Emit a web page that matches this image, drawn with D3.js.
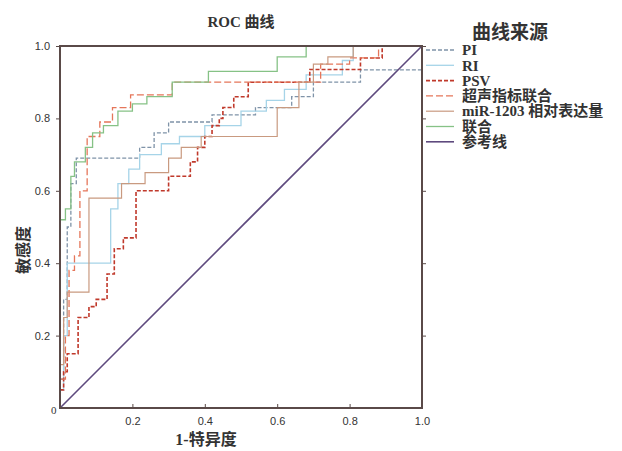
<!DOCTYPE html>
<html>
<head>
<meta charset="utf-8">
<script src="https://cdn.jsdelivr.net/npm/d3@7"></script>
<style>
  body { margin: 0; background: #fff; }
  svg { font-family: "Liberation Serif", "Noto Sans CJK SC", serif; }
  .axis path, .axis line { stroke: #5a4a48; }
  .axis text { font-size: 11px; fill: #333; }
</style>
</head>
<body>
<svg width="622" height="451"></svg>
<script>
// x ticks / y ticks
var xTicks = [0.2, 0.4, 0.6, 0.8, 1.0];
var yTicks = [0.2, 0.4, 0.6, 0.8, 1.0];

var seriesNames = ["PI", "RI", "PSV", "超声指标联合", "miR-1203 相对表达量", "联合", "参考线"];

// [1-specificity, sensitivity] step points
var piPts = [[0,0],[0,0.08],[0.01,0.08],[0.01,0.3],[0.02,0.3],[0.02,0.5],[0.03,0.5],[0.03,0.62],[0.045,0.62],[0.045,0.69],[0.22,0.69],[0.22,0.72],[0.26,0.72],[0.26,0.76],[0.3,0.76],[0.3,0.79],[0.42,0.79],[0.42,0.81],[0.54,0.81],[0.54,0.83],[0.64,0.83],[0.64,0.86],[0.7,0.86],[0.7,0.9],[0.83,0.9],[0.83,0.934],[1,0.934],[1,1]];
var riPts = [[0,0],[0,0.05],[0.01,0.05],[0.01,0.2],[0.02,0.2],[0.02,0.4],[0.14,0.4],[0.14,0.55],[0.16,0.55],[0.16,0.62],[0.19,0.62],[0.19,0.66],[0.22,0.66],[0.22,0.7],[0.28,0.7],[0.28,0.73],[0.33,0.73],[0.33,0.75],[0.4,0.75],[0.4,0.78],[0.5,0.78],[0.5,0.82],[0.57,0.82],[0.57,0.85],[0.62,0.85],[0.62,0.88],[0.68,0.88],[0.68,0.92],[0.78,0.92],[0.78,0.96],[0.81,0.96],[0.81,1],[1,1]];
var psvPts = [[0,0],[0,0.05],[0.01,0.05],[0.01,0.1],[0.02,0.1],[0.02,0.15],[0.05,0.15],[0.05,0.25],[0.08,0.25],[0.08,0.28],[0.1,0.28],[0.1,0.3],[0.13,0.3],[0.13,0.37],[0.15,0.37],[0.15,0.44],[0.175,0.44],[0.175,0.47],[0.21,0.47],[0.21,0.6],[0.3,0.6],[0.3,0.64],[0.36,0.64],[0.36,0.68],[0.38,0.68],[0.38,0.72],[0.4,0.72],[0.4,0.75],[0.42,0.75],[0.42,0.78],[0.44,0.78],[0.44,0.8],[0.45,0.8],[0.45,0.83],[0.48,0.83],[0.48,0.86],[0.52,0.86],[0.52,0.9],[0.69,0.9],[0.69,0.935],[0.83,0.935],[0.83,0.967],[0.89,0.967],[0.89,1],[1,1]];
var usPts = [[0,0],[0,0.08],[0.015,0.08],[0.015,0.2],[0.025,0.2],[0.025,0.38],[0.04,0.38],[0.04,0.42],[0.055,0.42],[0.055,0.6],[0.075,0.6],[0.075,0.75],[0.11,0.75],[0.11,0.79],[0.145,0.79],[0.145,0.83],[0.195,0.83],[0.195,0.865],[0.31,0.865],[0.31,0.9],[0.72,0.9],[0.72,0.95],[0.8,0.95],[0.8,0.967],[0.88,0.967],[0.88,1],[1,1]];
var mirPts = [[0,0],[0,0.12],[0.01,0.12],[0.01,0.25],[0.02,0.25],[0.02,0.32],[0.08,0.32],[0.08,0.58],[0.17,0.58],[0.17,0.62],[0.235,0.62],[0.235,0.65],[0.3,0.65],[0.3,0.69],[0.335,0.69],[0.335,0.72],[0.39,0.72],[0.39,0.75],[0.6,0.75],[0.6,0.83],[0.66,0.83],[0.66,0.9],[0.7,0.9],[0.7,0.95],[0.74,0.95],[0.74,0.97],[0.81,0.97],[0.81,1],[1,1]];
var combPts = [[0,0],[0,0.52],[0.015,0.52],[0.015,0.55],[0.03,0.55],[0.03,0.64],[0.04,0.64],[0.04,0.68],[0.07,0.68],[0.07,0.72],[0.09,0.72],[0.09,0.76],[0.12,0.76],[0.12,0.78],[0.16,0.78],[0.16,0.82],[0.2,0.82],[0.2,0.84],[0.24,0.84],[0.24,0.86],[0.31,0.86],[0.31,0.9],[0.41,0.9],[0.41,0.93],[0.6,0.93],[0.6,0.97],[0.68,0.97],[0.68,1],[1,1]];
var refPts = [[0,0],[1,1]];

var seriesPts = [piPts, riPts, psvPts, usPts, mirPts, combPts, refPts];
var seriesColor = ["#7f93a8", "#a6d4e8", "#c0392b", "#e5765a", "#c99a80", "#86c286", "#5e4a7e"];
var seriesDash = ["4,2", null, "4,2", "7,3", null, null, null];
var seriesWidth = [1.3, 1.3, 1.6, 1.3, 1.2, 1.3, 1.6];

var svg = d3.select("svg"),
    margin = {top: 46, right: 200, bottom: 43, left: 60},
    width = +svg.attr("width") - margin.left - margin.right,
    height = +svg.attr("height") - margin.top - margin.bottom;

var x = d3.scaleLinear().domain([0, 1]).range([0, width]),
    y = d3.scaleLinear().domain([0, 1]).range([height, 0]);

var g = svg.append("g")
    .attr("transform", "translate(" + margin.left + "," + margin.top + ")");

var line = d3.line()
    .x(function(d) { return x(d[0]); })
    .y(function(d) { return y(d[1]); });

// curves (reference line drawn last, as in the picture)
seriesPts.forEach(function(pts, i) {
  g.append("path")
      .datum(pts)
      .attr("fill", "none")
      .attr("stroke", seriesColor[i])
      .attr("stroke-width", seriesWidth[i])
      .attr("stroke-dasharray", seriesDash[i])
      .attr("d", line);
});

// axes
g.append("g")
    .attr("class", "axis axis--x")
    .attr("transform", "translate(0," + height + ")")
    .call(d3.axisBottom(x).tickValues(xTicks).tickSize(-4).tickPadding(9).tickFormat(d3.format(".1f")))
    .call(function(s) { s.select(".domain").remove(); });

g.append("g")
    .attr("class", "axis axis--y")
    .call(d3.axisLeft(y).tickValues(yTicks).tickSize(4).tickPadding(6).tickFormat(d3.format(".1f")))
    .call(function(s) { s.select(".domain").remove(); });

g.append("g")
    .attr("class", "axis")
    .attr("transform", "translate(" + width + ",0)")
    .call(d3.axisRight(y).tickValues(yTicks).tickSize(4).tickFormat(""))
    .call(function(s) { s.select(".domain").remove(); });

g.append("text")
    .attr("x", -9)
    .attr("y", height + 6)
    .attr("font-size", 11)
    .attr("fill", "#333")
    .text("0");

// frame
g.append("rect")
    .attr("width", width)
    .attr("height", height)
    .attr("fill", "none")
    .attr("stroke", "#5a4a48")
    .attr("stroke-width", 2);

// titles
svg.append("text")
    .attr("x", margin.left + width / 2)
    .attr("y", 27)
    .attr("text-anchor", "middle")
    .attr("font-size", 15)
    .attr("font-weight", "bold")
    .attr("fill", "#333")
    .text("ROC 曲线");

svg.append("text")
    .attr("x", margin.left + width / 2 - 35)
    .attr("y", 445)
    .attr("text-anchor", "middle")
    .attr("font-size", 16)
    .attr("font-weight", "bold")
    .attr("fill", "#333")
    .text("1-特异度");

svg.append("text")
    .attr("transform", "translate(29,250) rotate(-90)")
    .attr("text-anchor", "middle")
    .attr("font-size", 16)
    .attr("font-weight", "bold")
    .attr("fill", "#333")
    .text("敏感度");

// legend
var legend = svg.append("g").attr("transform", "translate(426,0)");

legend.append("text")
    .attr("x", 84)
    .attr("y", 39)
    .attr("text-anchor", "middle")
    .attr("font-size", 19)
    .attr("font-weight", "bold")
    .attr("fill", "#333")
    .text("曲线来源");

var item = legend.selectAll(".item")
    .data(seriesNames)
    .enter().append("g")
      .attr("class", "item")
      .attr("transform", function(d, i) { return "translate(0," + (50 + i * 15.3) + ")"; });

item.append("line")
    .attr("x1", 0)
    .attr("x2", 28)
    .attr("stroke", function(d, i) { return seriesColor[i]; })
    .attr("stroke-width", function(d, i) { return seriesWidth[i]; })
    .attr("stroke-dasharray", function(d, i) { return seriesDash[i]; });

item.append("text")
    .attr("x", 36)
    .attr("dy", "0.35em")
    .attr("font-size", 15)
    .attr("font-weight", "bold")
    .attr("fill", "#333")
    .text(function(d) { return d; });
</script>
</body>
</html>
